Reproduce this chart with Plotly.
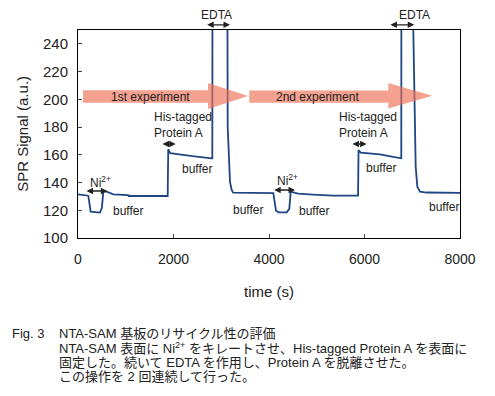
import plotly.graph_objects as go

# ---- data ----
time_s = [0, 150, 216, 265, 460, 500, 530, 600, 740, 1050, 1060, 1878, 1890, 1930, 2000,
          2200, 2400, 2600, 2800, 2813, 2820, 3120, 3127, 3135, 3183, 3218, 3250, 3500,
          3800, 4090, 4147, 4200, 4370, 4425, 4455, 4607, 4921, 5340, 5865, 5875, 5920,
          6100, 6325, 6570, 6743, 6770, 6775, 7015, 7022, 7037, 7072, 7106, 7162, 7300, 8000]
spr_signal = [131.5, 131, 130.5, 119, 118.3, 121.7, 133.4, 133.5, 131.5, 131, 130.3, 130.3, 164, 161.2, 161,
              160, 159, 158, 157.5, 157.5, 400, 400, 188, 180, 140.7, 134.7, 132.7, 132.5,
              132.8, 132.3, 119.7, 118.5, 118.5, 121, 133.5, 132, 131.3, 130.5, 130.5, 163.5, 161.6,
              161, 160.3, 158.7, 157.3, 157.5, 400, 400, 250, 211.7, 151.5, 137, 133.4, 132.8, 132.5]

x_ticks = [0, 2000, 4000, 6000, 8000]
y_ticks = [100, 120, 140, 160, 180, 200, 220, 240]

buffer_t = [1053, 2486, 3570, 4938, 6351, 7675]
buffer_v = [119.7, 149.8, 120.2, 119.7, 150.7, 122.1]

FONT = "Liberation Sans, Arial, Noto Sans CJK JP, sans-serif"
LINE = "#1f4683"
ARROW = "rgba(240,110,85,0.65)"

fig = go.Figure()
fig.add_trace(go.Scatter(x=time_s, y=spr_signal, mode="lines",
                         line=dict(color=LINE, width=1.8), showlegend=False,
                         hoverinfo="skip"))

# big experiment arrows
def big_arrow(t0, t1, t2, yb0, yb1, yh0, yh1):
    yc = (yh0 + yh1) / 2
    return dict(type="path", xref="x", yref="y", layer="above",
                path=f"M {t0},{yb0} L {t1},{yb0} L {t1},{yh0} L {t2},{yc} L {t1},{yh1} "
                     f"L {t1},{yb1} L {t0},{yb1} Z",
                fillcolor=ARROW, line=dict(width=0))

fig.add_shape(**big_arrow(105, 2722, 3560, 197.6, 206.6, 193.0, 211.8))
fig.add_shape(**big_arrow(3587, 6498, 7419, 197.6, 206.3, 193.4, 211.8))

ann = []
def txt(x, y, s, xanchor="center", align="center", size=12, yref="y"):
    ann.append(dict(x=x, y=y, xref="x", yref=yref, text=s, showarrow=False,
                    xanchor=xanchor, yanchor="middle", align=align,
                    font=dict(family=FONT, size=size, color="#222")))

def darrow(x0, x1, y, yref="y"):
    d = dict(x=x1, y=y, ax=x0, xref="x", yref=yref, axref="x",
             text="", showarrow=True, arrowhead=2, startarrowhead=2,
             arrowside="end+start", arrowsize=1, startarrowsize=1,
             arrowwidth=1.3, arrowcolor="#222")
    if yref == "y":
        d.update(ay=y, ayref="y")
    else:
        d.update(ay=0, ayref="pixel")
    ann.append(d)

txt(1508, 201.5, "1st experiment")
txt(5026, 201.5, "2nd experiment")
txt(2904, 1.071, "EDTA", yref="paper")
darrow(2674, 3183, 1.025, yref="paper")
txt(7057, 1.071, "EDTA", yref="paper")
darrow(6512, 7042, 1.025, yref="paper")
txt(1543, 181.8, "His-tagged<br>Protein A", xanchor="left", align="left")
darrow(1738, 2046, 167.8)
txt(5417, 181.8, "His-tagged<br>Protein A", xanchor="left", align="left")
darrow(5717, 6045, 167.8)
txt(461, 140.6, "Ni<sup>2+</sup>")
darrow(147, 614, 133.9)
txt(4391, 141.8, "Ni<sup>2+</sup>")
darrow(4077, 4544, 134.6)
for bt, bv in zip(buffer_t, buffer_v):
    txt(bt, bv, "buffer")

# axis titles
ann.append(dict(x=-0.147, y=0.5, xref="paper", yref="paper", text="SPR Signal (a.u.)",
                textangle=-90, showarrow=False, xanchor="center", yanchor="middle",
                font=dict(family=FONT, size=15, color="#222")))
ann.append(dict(x=0.5, y=-0.258, xref="paper", yref="paper", text="time (s)",
                showarrow=False, xanchor="center", yanchor="middle",
                font=dict(family=FONT, size=15, color="#222")))

# caption
cap = [
    (-0.178, -0.458, "Fig. 3"),
    (-0.0542, -0.458, "NTA-SAM 基板のリサイクル性の評価"),
    (-0.0542, -0.530, "NTA-SAM 表面に Ni<sup>2+</sup> をキレートさせ、His-tagged Protein A を表面に"),
    (-0.0542, -0.599, "固定した。続いて EDTA を作用し、Protein A を脱離させた。"),
    (-0.0542, -0.666, "この操作を 2 回連続して行った。"),
]
for cx, cy, s in cap:
    ann.append(dict(x=cx, y=cy, xref="paper", yref="paper", text=s, showarrow=False,
                    xanchor="left", yanchor="middle",
                    font=dict(family=FONT, size=13, color="#222")))

# the page body has an 8px default margin, so the figure is drawn 8px smaller
fig.update_layout(
    width=487, height=388,
    margin=dict(l=70, r=35, t=22, b=158),
    paper_bgcolor="white", plot_bgcolor="white",
    annotations=ann,
    font=dict(family=FONT, color="#222"),
    xaxis=dict(range=[0, 8000], tickvals=x_ticks, ticks="inside", ticklen=4,
               showline=True, linecolor="black", linewidth=1, mirror=True,
               showgrid=False, zeroline=False, tickfont=dict(size=14, family=FONT, color="#222"),
               ticklabelstandoff=8),
    yaxis=dict(range=[100, 250], tickvals=y_ticks, ticks="inside", ticklen=4,
               showline=True, linecolor="black", linewidth=1, mirror=True,
               showgrid=False, zeroline=False, tickfont=dict(size=15, family=FONT, color="#222"),
               ticklabelstandoff=6),
)

fig.write_html("out.html")
